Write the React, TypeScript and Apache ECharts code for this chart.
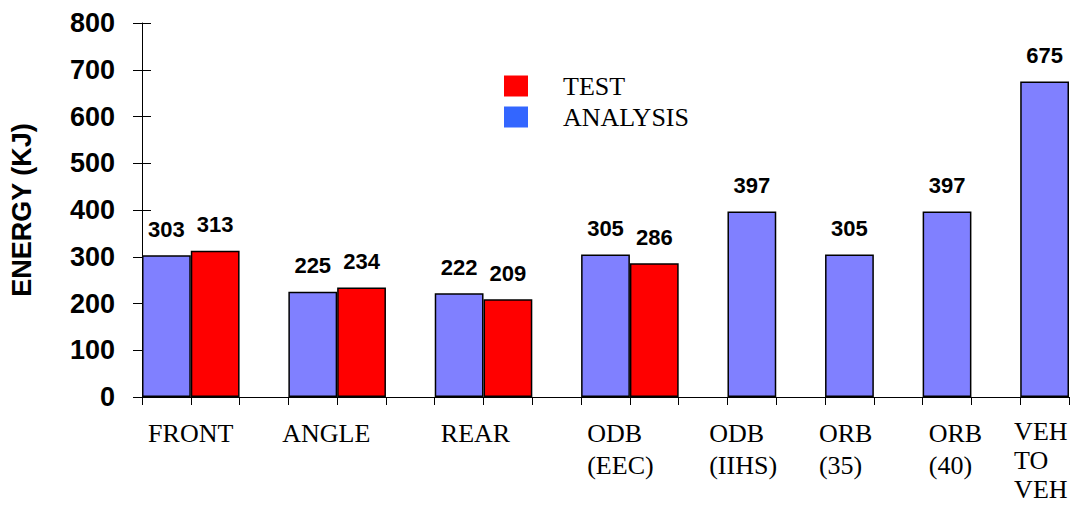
import React, { useEffect, useRef } from "react";
import * as echarts from "echarts";

// ---- data ----
const categories = ["FRONT", "ANGLE", "REAR", "ODB\n(EEC)", "ODB\n(IIHS)", "ORB\n(35)", "ORB\n(40)", "VEH\nTO\nVEH"];
const analysis = [303, 225, 222, 305, 397, 305, 397, 675];
const test: (number | null)[] = [313, 234, 209, 286, null, null, null, null];
const yTicks = [0, 100, 200, 300, 400, 500, 600, 700, 800];

// ---- layout helpers (slot layout of the original chart) ----
// label left edges, in eighth-of-a-slot units
const SUB = 8;
const labelSubSlot = [1, 23, 49, 73, 93, 111, 129, 143];

const slotsAnalysis: (number | null)[] = [];
const slotsTest: (number | null)[] = [];
categories.forEach((c, i) => {
  slotsAnalysis.push(analysis[i]);
  slotsTest.push(null);
  if (test[i] != null) {
    slotsAnalysis.push(null);
    slotsTest.push(test[i]);
  }
  if (i < categories.length - 1) {
    slotsAnalysis.push(null);
    slotsTest.push(null);
  }
});
const nSlots = slotsAnalysis.length;
const slotNames = slotsAnalysis.map((_, i) => "s" + i);
const subLabel: Record<number, string> = {};
labelSubSlot.forEach((h, i) => (subLabel[h] = categories[i]));

const labelFont = {
  align: "left",
  verticalAlign: "top",
  fontFamily: "Liberation Serif, Times New Roman, serif",
  fontSize: 26,
  color: "#000",
};
const subData = Array.from({ length: nSlots * SUB + 1 }, (_, i) => {
  const lbl = subLabel[i];
  if (lbl && lbl.split("\n").length > 2) {
    return { value: String(i), textStyle: { ...labelFont, lineHeight: 29 } };
  }
  return String(i);
});

export default function App() {
  const ref = useRef<HTMLDivElement>(null);
  useEffect(() => {
    if (!ref.current) return;
    const chart = echarts.init(ref.current, null, { renderer: "svg" });
    const valueLabel = {
      show: true,
      position: "top",
      distance: 15,
      formatter: "{c}",
      fontFamily: "Liberation Sans, Arial, sans-serif",
      fontWeight: "bold",
      fontSize: 22,
      color: "#000",
    };
    chart.setOption({
      animation: false,
      backgroundColor: "#fff",
      grid: { left: 142, right: 3, top: 23, bottom: 109, containLabel: false, outerBoundsMode: "none" },
      legend: {
        orient: "vertical",
        left: 504,
        top: 73,
        padding: 0,
        itemWidth: 24,
        itemHeight: 21,
        itemGap: 5,
        icon: "rect",
        selectedMode: false,
        textStyle: {
          fontFamily: "Liberation Serif, Times New Roman, serif",
          fontSize: 26,
          color: "#000",
          padding: [0, 0, 0, 30],
        },
        data: [
          { name: "TEST", itemStyle: { color: "#FF0000", borderWidth: 0 } },
          { name: "ANALYSIS", itemStyle: { color: "#3366FF", borderWidth: 0 } },
        ],
      },
      xAxis: [
        {
          type: "category",
          data: slotNames,
          position: "bottom",
          axisLine: { lineStyle: { color: "#000", width: 1 } },
          axisTick: { show: true, length: 8, lineStyle: { color: "#000" } },
          axisLabel: { show: false },
          splitLine: { show: false },
        },
        {
          type: "category",
          data: subData,
          boundaryGap: false,
          position: "bottom",
          axisLine: { show: false },
          axisTick: { show: false },
          splitLine: { show: false },
          axisLabel: {
            show: true,
            interval: 0,
            margin: 20,
            lineHeight: 32,
            ...labelFont,
            formatter: (v: string) => subLabel[Number(v)] || "",
          },
        },
      ],
      yAxis: [
        {
          type: "value",
          min: 0,
          max: 800,
          interval: 100,
          position: "left",
          name: "ENERGY (KJ)",
          nameLocation: "middle",
          nameRotate: 90,
          nameGap: 107,
          nameTextStyle: {
            fontFamily: "Liberation Sans, Arial, sans-serif",
            fontWeight: "bold",
            fontSize: 27,
            color: "#000",
          },
          axisLine: { show: true, lineStyle: { color: "#000", width: 1 } },
          axisTick: { show: true, length: 9, lineStyle: { color: "#000" } },
          splitLine: { show: false },
          axisLabel: {
            margin: 27,
            fontFamily: "Liberation Sans, Arial, sans-serif",
            fontWeight: "bold",
            fontSize: 27,
            color: "#000",
            formatter: (v: number) => (yTicks.includes(v) ? String(v) : ""),
          },
        },
        {
          type: "value",
          min: 0,
          max: 800,
          interval: 100,
          position: "left",
          axisLine: { show: false },
          axisTick: { show: true, inside: true, length: 9, lineStyle: { color: "#000" } },
          axisLabel: { show: false },
          splitLine: { show: false },
        },
      ],
      series: [
        {
          name: "ANALYSIS",
          type: "bar",
          stack: "all",
          xAxisIndex: 0,
          yAxisIndex: 0,
          barCategoryGap: "0%",
          data: slotsAnalysis,
          itemStyle: { color: "#8080FF", borderColor: "#000", borderWidth: 1.5 },
          label: valueLabel,
        },
        {
          name: "TEST",
          type: "bar",
          stack: "all",
          xAxisIndex: 0,
          yAxisIndex: 0,
          barCategoryGap: "0%",
          data: slotsTest,
          itemStyle: { color: "#FF0000", borderColor: "#000", borderWidth: 1.5 },
          label: valueLabel,
        },
      ],
    });
    return () => chart.dispose();
  }, []);
  return (
    <div
      ref={ref}
      style={{ position: "fixed", left: 0, top: 0, width: 1072, height: 506, background: "#fff" }}
    />
  );
}
